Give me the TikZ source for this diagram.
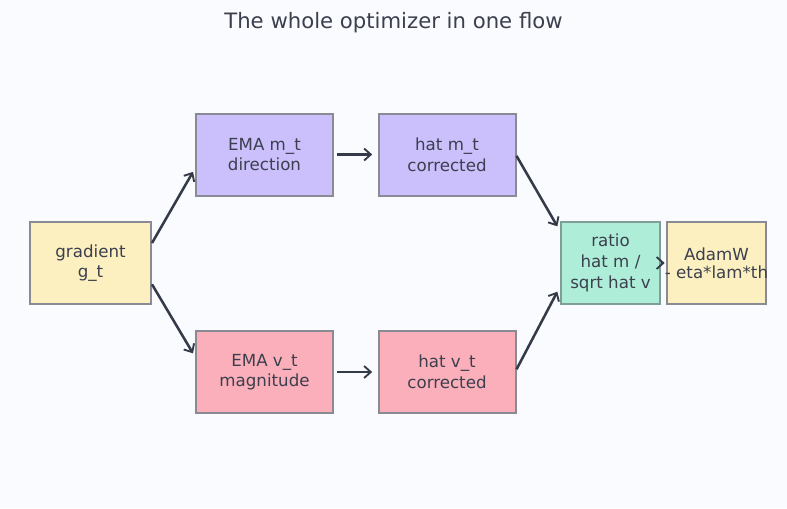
\documentclass[tikz,border=0pt]{standalone}
\usepackage{fontspec}
\setmainfont{DejaVu Sans}
\usetikzlibrary{positioning, arrows.meta}
\definecolor{bgcol}{HTML}{FAFBFE}
\definecolor{inkcol}{HTML}{3B3F4E}
\definecolor{arrowcol}{HTML}{343A48}
\definecolor{edgecol}{HTML}{8A8A95}
\definecolor{sandcol}{HTML}{FCF0C0}
\definecolor{lilaccol}{HTML}{CBC0FC}
\definecolor{rosecol}{HTML}{FAAFBA}
\definecolor{mintcol}{HTML}{AEEED8}
\definecolor{mintedge}{HTML}{7F9E95}

\begin{document}
\begin{tikzpicture}[
		x=0.75pt, y=-0.75pt,
		>={Straight Barb[length=5pt,width=9pt,line width=1.4pt]},
		box/.style={draw=edgecol, rectangle, line width=1.5pt, minimum height=61.5pt, align=center, text=inkcol, font=\fontsize{12.5}{15.5}\selectfont},
		wide/.style={box, minimum width=102.75pt},
		narrow/.style={box, minimum width=74.25pt},
		flow/.style={->, draw=arrowcol, line width=1.9pt},
	]
	\fill[bgcol] (0,0) rectangle (787,508);
	\useasboundingbox (0,0) rectangle (787,508);

	\node[text=inkcol, font=\fontsize{15.9}{19}\selectfont] (title) at (393.5, 23) {The whole optimizer in one flow};

	\node[box, fill=sandcol, minimum width=90.75pt] (gradient) at (90.5, 263) {gradient\\g\_t};
	\node[wide, fill=lilaccol] (ema_m) at (264.5, 154.5) {EMA m\_t\\direction};
	\node[wide, fill=lilaccol] (hat_m) at (447, 154.5) {hat m\_t\\corrected};
	\node[wide, fill=rosecol] (ema_v) at (264.5, 372) {EMA v\_t\\magnitude};
	\node[wide, fill=rosecol] (hat_v) at (447, 372) {hat v\_t\\corrected};
	\node[narrow, fill=mintcol, draw=mintedge] (ratio) at (610.5, 263) {ratio\\hat m /\\sqrt hat v};
	\node[narrow, fill=sandcol] (adamw) at (716.5, 263) {AdamW\\[-2pt]\makebox[0pt]{- eta*lam*th}};

	\draw[flow] ([yshift=15pt]gradient.east) -- ([yshift=-13pt, xshift=-1.5pt]ema_m.west);
	\draw[flow] ([yshift=-16pt]gradient.east) -- ([yshift=14pt, xshift=-1.5pt]ema_v.west);
	\draw[flow, shorten <=2pt, shorten >=4pt] (ema_m) -- (hat_m);
	\draw[flow, shorten <=2pt, shorten >=4pt] (ema_v) -- (hat_v);
	\draw[flow] ([yshift=-1pt]hat_m.east) -- ([yshift=-4pt, xshift=-2pt]ratio.north west);
	\draw[flow] ([yshift=2pt]hat_v.east) -- ([yshift=10pt, xshift=-2pt]ratio.south west);
	\draw[flow, shorten >=1pt] (ratio) -- (adamw);
\end{tikzpicture}
\end{document}
